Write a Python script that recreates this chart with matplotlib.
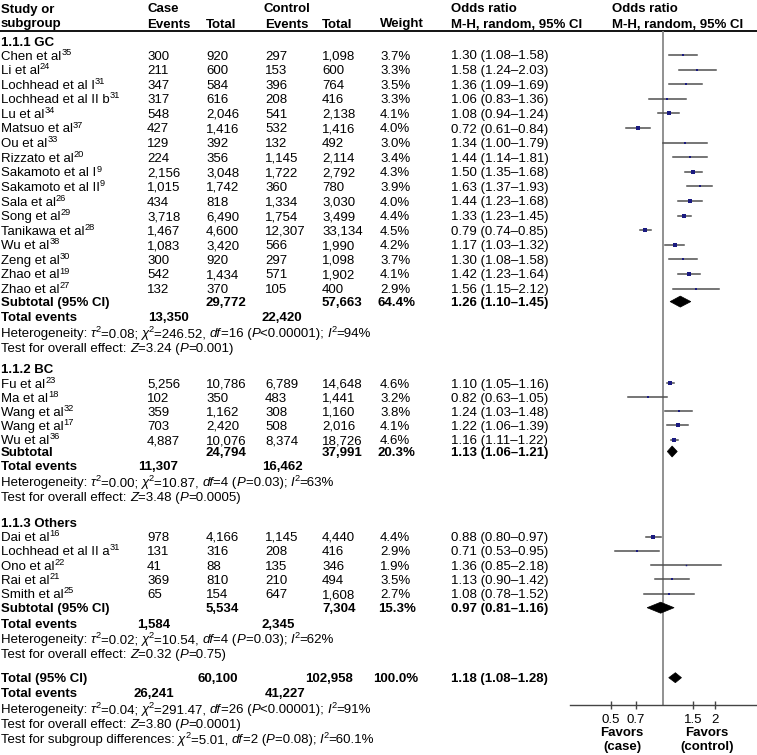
import re
import numpy as np
import matplotlib
matplotlib.use('Agg')
import matplotlib.pyplot as plt
from matplotlib.patches import Polygon

plt.rcParams['font.family'] = ['Liberation Sans', 'DejaVu Sans']

#%% datos
# _x_ = cursiva, ^x^ = superindice
gc_names = ['Chen et al^35^', 'Li et al^24^', 'Lochhead et al I^31^', 'Lochhead et al II b^31^',
            'Lu et al^34^', 'Matsuo et al^37^', 'Ou et al^33^', 'Rizzato et al^20^',
            'Sakamoto et al I^9^', 'Sakamoto et al II^9^', 'Sala et al^26^', 'Song et al^29^',
            'Tanikawa et al^28^', 'Wu et al^38^', 'Zeng et al^30^', 'Zhao et al^19^', 'Zhao et al^27^']
gc_case_ev = [300, 211, 347, 317, 548, 427, 129, 224, 2156, 1015, 434, 3718, 1467, 1083, 300, 542, 132]
gc_case_n = [920, 600, 584, 616, 2046, 1416, 392, 356, 3048, 1742, 818, 6490, 4600, 3420, 920, 1434, 370]
gc_ctrl_ev = [297, 153, 396, 208, 541, 532, 132, 1145, 1722, 360, 1334, 1754, 12307, 566, 297, 571, 105]
gc_ctrl_n = [1098, 600, 764, 416, 2138, 1416, 492, 2114, 2792, 780, 3030, 3499, 33134, 1990, 1098, 1902, 400]
gc_weight = [3.7, 3.3, 3.5, 3.3, 4.1, 4.0, 3.0, 3.4, 4.3, 3.9, 4.0, 4.4, 4.5, 4.2, 3.7, 4.1, 2.9]
gc_or = [1.30, 1.58, 1.36, 1.06, 1.08, 0.72, 1.34, 1.44, 1.50, 1.63, 1.44, 1.33, 0.79, 1.17, 1.30, 1.42, 1.56]
gc_lo = [1.08, 1.24, 1.09, 0.83, 0.94, 0.61, 1.00, 1.14, 1.35, 1.37, 1.23, 1.23, 0.74, 1.03, 1.08, 1.23, 1.15]
gc_hi = [1.58, 2.03, 1.69, 1.36, 1.24, 0.84, 1.79, 1.81, 1.68, 1.93, 1.68, 1.45, 0.85, 1.32, 1.58, 1.64, 2.12]

bc_names = ['Fu et al^23^', 'Ma et al^18^', 'Wang et al^32^', 'Wang et al^17^', 'Wu et al^36^']
bc_case_ev = [5256, 102, 359, 703, 4887]
bc_case_n = [10786, 350, 1162, 2420, 10076]
bc_ctrl_ev = [6789, 483, 308, 508, 8374]
bc_ctrl_n = [14648, 1441, 1160, 2016, 18726]
bc_weight = [4.6, 3.2, 3.8, 4.1, 4.6]
bc_or = [1.10, 0.82, 1.24, 1.22, 1.16]
bc_lo = [1.05, 0.63, 1.03, 1.06, 1.11]
bc_hi = [1.16, 1.05, 1.48, 1.39, 1.22]

ot_names = ['Dai et al^16^', 'Lochhead et al II a^31^', 'Ono et al^22^', 'Rai et al^21^', 'Smith et al^25^']
ot_case_ev = [978, 131, 41, 369, 65]
ot_case_n = [4166, 316, 88, 810, 154]
ot_ctrl_ev = [1145, 208, 135, 210, 647]
ot_ctrl_n = [4440, 416, 346, 494, 1608]
ot_weight = [4.4, 2.9, 1.9, 3.5, 2.7]
ot_or = [0.88, 0.71, 1.36, 1.13, 1.08]
ot_lo = [0.80, 0.53, 0.85, 0.90, 0.78]
ot_hi = [0.97, 0.95, 2.18, 1.42, 1.52]

group_titles = ['1.1.1 GC', '1.1.2 BC', '1.1.3 Others']
sub_labels = ['Subtotal (95% CI)', 'Subtotal', 'Subtotal (95% CI)']
sub_case_n = [29772, 24794, 5534]
sub_ctrl_n = [57663, 37991, 7304]
sub_case_ev = [13350, 11307, 1584]
sub_ctrl_ev = [22420, 16462, 2345]
sub_weight = [64.4, 20.3, 15.3]
sub_or = [1.26, 1.13, 0.97]
sub_lo = [1.10, 1.06, 0.81]
sub_hi = [1.45, 1.21, 1.16]
sub_het = ['Heterogeneity: _\u03c4_^2^=0.08; _\u03c7_^2^=246.52, _df_=16 (_P_<0.00001); _I_^2^=94%',
           'Heterogeneity: _\u03c4_^2^=0.00; _\u03c7_^2^=10.87, _df_=4 (_P_=0.03); _I_^2^=63%',
           'Heterogeneity: _\u03c4_^2^=0.02; _\u03c7_^2^=10.54, _df_=4 (_P_=0.03); _I_^2^=62%']
sub_test = ['Test for overall effect: _Z_=3.24 (_P_=0.001)',
            'Test for overall effect: _Z_=3.48 (_P_=0.0005)',
            'Test for overall effect: _Z_=0.32 (_P_=0.75)']

tot_case_n, tot_ctrl_n = 60100, 102958
tot_case_ev, tot_ctrl_ev = 26241, 41227
tot_weight = 100.0
tot_or, tot_lo, tot_hi = 1.18, 1.08, 1.28
tot_lines = ['Heterogeneity: _\u03c4_^2^=0.04; _\u03c7_^2^=291.47, _df_=26 (_P_<0.00001); _I_^2^=91%',
             'Test for overall effect: _Z_=3.80 (_P_=0.0001)',
             'Test for subgroup differences: _\u03c7_^2^=5.01, _df_=2 (_P_=0.08); _I_^2^=60.1%']

xticks = [0.5, 0.7, 1.5, 2]
xticklabels = ['0.5', '0.7', '1.5', '2']

groups = [
    (gc_names, gc_case_ev, gc_case_n, gc_ctrl_ev, gc_ctrl_n, gc_weight, gc_or, gc_lo, gc_hi),
    (bc_names, bc_case_ev, bc_case_n, bc_ctrl_ev, bc_ctrl_n, bc_weight, bc_or, bc_lo, bc_hi),
    (ot_names, ot_case_ev, ot_case_n, ot_ctrl_ev, ot_ctrl_n, ot_weight, ot_or, ot_lo, ot_hi),
]

#%% figura (coordenadas en pixeles)
W, H = 757, 755
fig = plt.figure(figsize=(W / 100, H / 100), dpi=100)
bg = fig.add_axes([0, 0, 1, 1])
bg.set_xlim(0, W)
bg.set_ylim(H, 0)
bg.axis('off')
renderer = fig.canvas.get_renderer()

FS = 9.5
x_st, x_ce, x_cn, x_te, x_tn, x_w, x_or = 1, 147, 206, 265, 322, 380, 451
x_plot0, x_plot1 = 570, 757
y_head, y_axis = 31, 705

# posiciones de "Total events" por grupo (caso, control)
ev_x = [(148, 261), (138, 262), (137, 262)]
# espaciado vertical por grupo
row_step = [14.6, 14.1, 14.3]
hdr_gap = [13, 15, 14]
sub_gap = [13, 12, 14]
te_gap = [14.5, 14, 16]
het_gap = [16.5, 16, 15]
test_gap = [14.5, 15, 15]
next_gap = [21, 26, 24]

# eje del forest plot
fa = fig.add_axes([x_plot0 / W, (H - y_axis) / H, (x_plot1 - x_plot0) / W, (y_axis - y_head) / H])
fa.set_xscale('log')
fa.set_xlim(0.29, 3.5)
fa.set_ylim(y_axis, y_head)
fa.patch.set_alpha(0)
for s in ['top', 'right', 'left']:
    fa.spines[s].set_visible(False)
fa.spines['bottom'].set_color('#444444')
fa.spines['bottom'].set_linewidth(1.0)
fa.set_yticks([])
fa.set_xticks(xticks)
fa.set_xticklabels(xticklabels, fontsize=FS)
fa.minorticks_off()
fa.tick_params(axis='x', direction='inout', length=6, width=1, color='#444444', pad=3.5)
fa.axvline(1, color='#888888', lw=1.3, zorder=1)


def txt(x, y, s, bold=False, ha='left'):
    bg.text(x, y, s, fontsize=FS, fontweight='bold' if bold else 'normal',
            ha=ha, va='center_baseline')


def seg_width(s, **kw):
    t1 = bg.text(0, 0, 'x' + s + 'x', **kw)
    t2 = bg.text(0, 0, 'xx', **kw)
    w = t1.get_window_extent(renderer).width - t2.get_window_extent(renderer).width
    t1.remove()
    t2.remove()
    return w


def rich(x, y, s):
    # texto con cursivas (_x_) y superindices (^x^)
    for part in re.split(r'(_[^_]+_|\^[^^]+\^)', s):
        if not part:
            continue
        kw = dict(fontsize=FS)
        dy = 0
        if part[0] == '_':
            part = part[1:-1]
            kw['fontstyle'] = 'italic'
        elif part[0] == '^':
            part = part[1:-1]
            kw['fontsize'] = FS * 0.7
            dy = -3.8
        bg.text(x, y + dy, part, ha='left', va='center_baseline', **kw)
        x += seg_width(part, **kw)


def diamond(y, o, lo, hi, h=5.5):
    fa.add_patch(Polygon([(lo, y), (o, y - h), (hi, y), (o, y + h)], closed=True,
                         facecolor='black', edgecolor='black', lw=0.5, zorder=3))


# encabezados
txt(x_st, 8, 'Study or', True)
txt(x_st, 23, 'subgroup', True)
txt(x_ce, 8, 'Case', True)
txt(x_ce, 23, 'Events', True)
txt(x_cn, 23, 'Total', True)
txt(263, 8, 'Control', True)
txt(x_te, 23, 'Events', True)
txt(x_tn, 23, 'Total', True)
txt(x_w, 23, 'Weight', True)
txt(x_or, 8, 'Odds ratio', True)
txt(x_or, 23, 'M-H, random, 95% CI', True)
txt(612, 8, 'Odds ratio', True)
txt(612, 23, 'M-H, random, 95% CI', True)
bg.plot([0, W], [y_head, y_head], color='black', lw=1.3)

# filas
y = 42
for g, grp in enumerate(groups):
    names, ce, cn, te, tn, w, o, lo, hi = grp
    txt(x_st, y, group_titles[g], True)
    y += hdr_gap[g]
    for i in range(len(names)):
        rich(x_st, y, names[i])
        txt(x_ce, y, f'{ce[i]:,}')
        txt(x_cn, y, f'{cn[i]:,}')
        txt(x_te, y, f'{te[i]:,}')
        txt(x_tn, y, f'{tn[i]:,}')
        txt(x_w, y, f'{w[i]:.1f}%')
        txt(x_or, y, f'{o[i]:.2f} ({lo[i]:.2f}\u2013{hi[i]:.2f})')
        fa.plot([lo[i], hi[i]], [y, y], color='#505050', lw=1.1, zorder=2)
        fa.plot(o[i], y, marker='s', ms=w[i] * 0.55, color='#1a1a80', mec='#1a1a80', mew=0, zorder=3)
        y += row_step[g]
    y += -row_step[g] + sub_gap[g]
    txt(x_st, y, sub_labels[g], True)
    txt(x_cn, y, f'{sub_case_n[g]:,}', True)
    txt(x_tn, y, f'{sub_ctrl_n[g]:,}', True)
    txt(x_w - 2, y, f'{sub_weight[g]:.1f}%', True)
    txt(x_or, y, f'{sub_or[g]:.2f} ({sub_lo[g]:.2f}\u2013{sub_hi[g]:.2f})', True)
    diamond(y, sub_or[g], sub_lo[g], sub_hi[g])
    y += te_gap[g]
    txt(x_st, y, 'Total events', True)
    txt(ev_x[g][0], y, f'{sub_case_ev[g]:,}', True)
    txt(ev_x[g][1], y, f'{sub_ctrl_ev[g]:,}', True)
    y += het_gap[g]
    rich(x_st, y, sub_het[g])
    y += test_gap[g]
    rich(x_st, y, sub_test[g])
    y += next_gap[g]

# total global
txt(x_st, y, 'Total (95% CI)', True)
txt(238, y, f'{tot_case_n:,}', True, ha='right')
txt(353, y, f'{tot_ctrl_n:,}', True, ha='right')
txt(x_w - 7, y, f'{tot_weight:.1f}%', True)
txt(x_or, y, f'{tot_or:.2f} ({tot_lo:.2f}\u2013{tot_hi:.2f})', True)
diamond(y, tot_or, tot_lo, tot_hi, h=5)
y += 15
txt(x_st, y, 'Total events', True)
txt(133, y, f'{tot_case_ev:,}', True)
txt(x_te, y, f'{tot_ctrl_ev:,}', True)
y += 16
for line in tot_lines:
    rich(x_st, y, line)
    y += 15

# etiquetas "Favors"
bg.text(622, 740, 'Favors\n(case)', fontsize=FS, fontweight='bold', ha='center', va='center', linespacing=1.15)
bg.text(707, 740, 'Favors\n(control)', fontsize=FS, fontweight='bold', ha='center', va='center', linespacing=1.15)

plt.savefig('out.png', dpi=100)
